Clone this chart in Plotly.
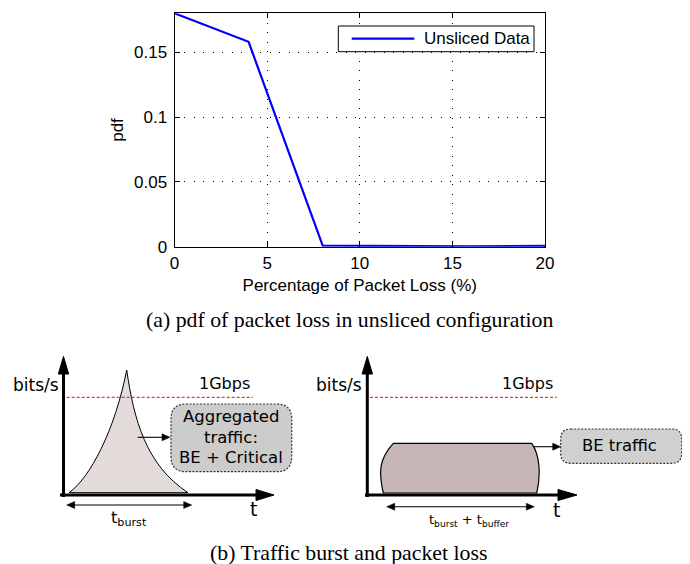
import plotly.graph_objects as go

# ---------------- data (top chart) ----------------
loss_pct = [0, 4, 8, 12, 16, 20]
pdf_vals = [0.18, 0.158, 0.0008, 0.0006, 0.0003, 0.0007]
x_ticks = [0, 5, 10, 15, 20]
y_ticks = [0, 0.05, 0.1, 0.15]
y_ticktext = ["0", "0.05", "0.1", "0.15"]
series_name = "Unsliced Data"

# page is 690x564; the html body has an 8px default margin
OX, OY = 8, 8
W, H = 690 - OX, 564 - OY
SANS = "Liberation Sans, Arial, sans-serif"
DIAG = "DejaVu Sans, Verdana, sans-serif"
SERIF = "Liberation Serif, Times New Roman, serif"
LINE_COLOR = "#0000ff"


def px(x):
    return (x - OX) / W


def py(y):
    return 1 - (y - OY) / H


fig = go.Figure()
fig.add_trace(go.Scatter(x=loss_pct, y=pdf_vals, mode="lines",
                         line=dict(color=LINE_COLOR, width=2.2),
                         name=series_name, showlegend=False))
# invisible helper trace for the drawing canvas (page-pixel axes)
fig.add_trace(go.Scatter(x=[], y=[], xaxis="x2", yaxis="y2", showlegend=False,
                         hoverinfo="skip"))

axis_common = dict(ticks="inside", ticklen=5, tickcolor="black", showline=True,
                   linecolor="black", linewidth=1, mirror="ticks", showgrid=True,
                   gridcolor="black", griddash="1px,8.5px", gridwidth=1,
                   zeroline=False, tickfont=dict(family=SANS, size=17, color="black"),
                   fixedrange=True, automargin=False)

fig.update_layout(
    width=W, height=H, margin=dict(l=0, r=0, t=0, b=0, autoexpand=False),
    paper_bgcolor="white", plot_bgcolor="rgba(0,0,0,0)",
    xaxis=dict(domain=[px(174.5), px(545)], range=[0, 20], tickvals=x_ticks,
               title=dict(text="Percentage of Packet Loss (%)",
                          font=dict(family=SANS, size=17, color="black"), standoff=7),
               anchor="y", ticklabelstandoff=1, **axis_common),
    yaxis=dict(domain=[py(246.7), py(13.3)], range=[0, 0.18], tickvals=y_ticks,
               ticktext=y_ticktext,
               title=dict(text="pdf", font=dict(family=SANS, size=17, color="black"),
                          standoff=6),
               anchor="x", ticklabelstandoff=3, **axis_common),
    xaxis2=dict(domain=[0, 1], range=[OX, OX + W], visible=False, anchor="y2",
                fixedrange=True, automargin=False),
    yaxis2=dict(domain=[0, 1], range=[OY + H, OY], visible=False, anchor="x2",
                fixedrange=True, automargin=False),
    showlegend=False,
)

shapes = []
annots = []


def P(**kw):
    d = dict(xref="x2", yref="y2")
    d.update(kw)
    return d


def rrect(x0, y0, x1, y1, r):
    return (f"M {x0+r},{y0} L {x1-r},{y0} Q {x1},{y0} {x1},{y0+r} "
            f"L {x1},{y1-r} Q {x1},{y1} {x1-r},{y1} L {x0+r},{y1} "
            f"Q {x0},{y1} {x0},{y1-r} L {x0},{y0+r} Q {x0},{y0} {x0+r},{y0} Z")


def text(x, y, s, size, family=DIAG, xanchor="center"):
    annots.append(dict(xref="x2", yref="y2", x=x, y=y, text=s, showarrow=False,
                       xanchor=xanchor, yanchor="middle",
                       font=dict(family=family, size=size, color="black")))


def head(xt, y, direction, length=8, half=3.5):
    xb = xt - direction * length
    shapes.append(P(type="path", path=f"M {xb},{y-half} L {xt},{y} L {xb},{y+half} Z",
                    fillcolor="black", line=dict(color="black", width=0.5)))


def harrow(x0, x1, y, both=False):
    shapes.append(P(type="line", x0=x0 + (4 if both else 0), x1=x1 - 4, y0=y, y1=y,
                    line=dict(color="black", width=1.1)))
    head(x1, y, +1)
    if both:
        head(x0, y, -1)


# ---------- legend box (top chart) ----------
shapes.append(P(type="rect", x0=338.3, x1=534, y0=26, y1=51.7,
                fillcolor="white", line=dict(color="black", width=1)))
shapes.append(P(type="line", x0=351.7, x1=414.3, y0=38.7, y1=38.7,
                line=dict(color=LINE_COLOR, width=2.2)))
text(421.7, 38.7, series_name, 17, family=SANS, xanchor="left")

# ---------- left diagram ----------
shapes.append(P(type="path",
                path="M 69,492.7 C 90,478 115,430 126.7,370 C 134,420 146,465 188,492.7 Z",
                fillcolor="#e3dada", line=dict(color="black", width=1)))
shapes.append(P(type="line", x0=66.7, x1=253, y0=397.3, y1=397.3,
                line=dict(color="#cc1111", width=1, dash="3px,2px")))
shapes.append(P(type="line", x0=63.5, x1=63.5, y0=497, y1=372, line=dict(color="black", width=3)))
shapes.append(P(type="path", path="M 58.3,374 L 63.5,356.5 L 68.7,374 Z",
                fillcolor="black", line=dict(color="black", width=1)))
shapes.append(P(type="line", x0=60, x1=258, y0=495, y1=495, line=dict(color="black", width=3)))
shapes.append(P(type="path", path="M 256,489.5 L 274,495 L 256,500.5 Z",
                fillcolor="black", line=dict(color="black", width=1)))
shapes.append(P(type="path", path=rrect(171, 404, 291.7, 471.7, 15),
                fillcolor="#cccccc", line=dict(color="#333333", width=1.2, dash="2px,1.5px")))
harrow(137.7, 170, 437.3)
harrow(66.7, 191.7, 505, both=True)
text(35.5, 385, "bits/s", 17)
text(224.7, 383.3, "1Gbps", 16)
text(231.3, 416, "Aggregated", 16.5)
text(231.3, 437.3, "traffic:", 16.5)
text(231.3, 457.8, "BE + Critical", 16.5)
text(253.3, 509, "t", 19)
text(129, 518, "t<sub>burst</sub>", 16)

# ---------- right diagram ----------
shapes.append(P(type="path",
                path="M 383.3,493 C 378,470 380,458 393.3,443.3 L 531.7,443.3 "
                     "C 540,455 541,475 536.7,493 Z",
                fillcolor="#c6b6b6", line=dict(color="black", width=1.2)))
shapes.append(P(type="line", x0=370, x1=556.7, y0=397.3, y1=397.3,
                line=dict(color="#cc1111", width=1, dash="3px,2px")))
shapes.append(P(type="line", x0=367.3, x1=367.3, y0=497, y1=372, line=dict(color="black", width=3)))
shapes.append(P(type="path", path="M 362.1,374 L 367.3,356.5 L 372.5,374 Z",
                fillcolor="black", line=dict(color="black", width=1)))
shapes.append(P(type="line", x0=365, x1=560, y0=495, y1=495, line=dict(color="black", width=3)))
shapes.append(P(type="path", path="M 558,489.5 L 577,495 L 558,500.5 Z",
                fillcolor="black", line=dict(color="black", width=1)))
shapes.append(P(type="path", path=rrect(560.7, 429, 681.7, 463.3, 10),
                fillcolor="#d0d0d0", line=dict(color="#333333", width=1.2, dash="2px,1.5px")))
harrow(533, 560.7, 446.7)
harrow(386.7, 534.3, 506.7, both=True)
text(339.3, 385, "bits/s", 17)
text(527.5, 383, "1Gbps", 16)
text(619.2, 445, "BE traffic", 16.4)
text(556.3, 510, "t", 19)
text(469, 520, "t<sub>burst</sub> + t<sub>buffer</sub>", 13)

# ---------- captions ----------
text(349, 320, "(a) pdf of packet loss in unsliced configuration", 21.8, family=SERIF)
text(348, 553, "(b) Traffic burst and packet loss", 21.8, family=SERIF)

fig.update_layout(shapes=shapes, annotations=annots)
fig.write_html("out.html")
